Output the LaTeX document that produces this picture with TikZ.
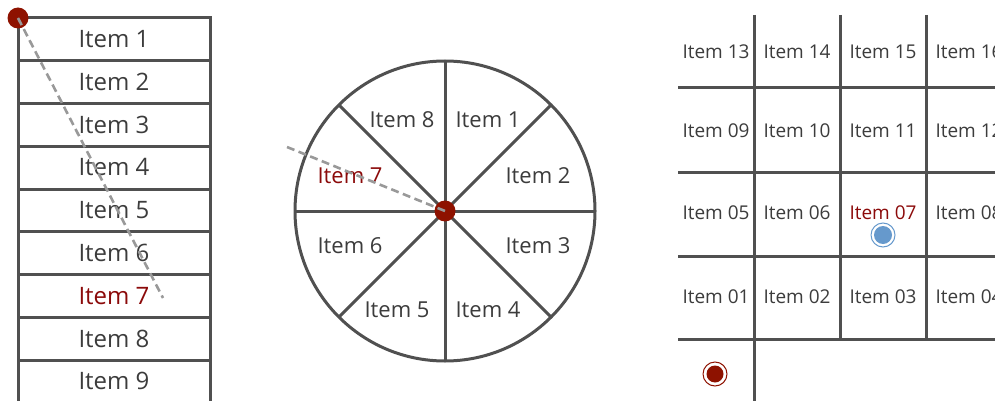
\documentclass[tikz,border=0pt]{standalone}
\usepackage{fontspec}
\setmainfont{Open Sans}
\definecolor{linec}{HTML}{505050}
\definecolor{txtc}{HTML}{3C3C3C}
\definecolor{redc}{HTML}{8E1200}
\definecolor{redt}{HTML}{8B0A0A}
\definecolor{dashc}{HTML}{999999}
\definecolor{bluec}{HTML}{6699CC}
\tikzset{
  frame/.style={draw=linec, line width=3pt},
  listtxt/.style={text=txtc, font=\fontsize{24}{28}\selectfont, inner sep=0pt},
  wheeltxt/.style={text=txtc, font=\fontsize{22}{26}\selectfont, inner sep=0pt},
  gridtxt/.style={text=txtc, font=\fontsize{19}{22}\selectfont, inner sep=0pt},
  hot/.style={text=redt},
  guide/.style={draw=dashc, line width=2.6pt, dash pattern=on 8pt off 4.5pt},
  reddot/.style={circle, fill=redc, minimum size=21pt, inner sep=0pt},
}
\begin{document}
\begin{tikzpicture}[x=1pt, y=-1pt]
\useasboundingbox (0,0) rectangle (995,401);
% ---------- list ----------
\draw[frame] (18,401) -- (18,18) -- (210,18) -- (210,401);
\foreach \y in {60.7,103.3,146,189,231.7,274.3,317,360}
  \draw[frame] (18,\y) -- (210,\y);
\foreach \i/\y in {1/39.5,2/82,3/124.7,4/167.5,5/210.3,6/253,8/338.5,9/380.5}
  \node[listtxt] (l\i) at (114,\y) {Item \i};
\node[listtxt, hot] (l7) at (114,295.7) {Item 7};
\coordinate (lend) at (163,298);
\node[reddot] (ldot) at (18,18) {};
\draw[guide] (ldot.center) -- (lend);
% ---------- wheel ----------
\coordinate (wc) at (445,211);
\draw[frame] (wc) circle (150);
\foreach \a in {0,45,...,315}
  \draw[frame] (wc) -- ++(\a:150);
\node[wheeltxt] (w1) at (488,120) {Item 1};
\node[wheeltxt] (w2) at (538,176) {Item 2};
\node[wheeltxt] (w3) at (538,246) {Item 3};
\node[wheeltxt] (w4) at (488,310) {Item 4};
\node[wheeltxt] (w5) at (397,310) {Item 5};
\node[wheeltxt] (w6) at (350,246) {Item 6};
\node[wheeltxt, hot] (w7) at (350,176) {Item 7};
\node[wheeltxt] (w8) at (402,120) {Item 8};
\coordinate (wend) at (287,147);
\node[reddot] (wdot) at (wc) {};
\draw[guide] (wdot.center) -- (wend);
% ---------- grid ----------
\foreach \y in {88,172,256,339}
  \draw[frame] (678,\y) -- (995,\y);
\draw[frame] (754,15) -- (754,401);
\draw[frame] (840,15) -- (840,339);
\draw[frame] (926,15) -- (926,339);
\foreach \lab/\x/\y in {13/716/52,14/797/52,15/883/52,16/969/52,
                        09/716/131,10/797/131,11/883/131,12/969/131,
                        05/716/213,06/797/213,08/969/213,
                        01/716/297,02/797/297,03/883/297,04/969/297}
  \node[gridtxt] (g\lab) at (\x,\y) {Item \lab};
\node[gridtxt, hot] (g07) at (883,213) {Item 07};
\node[circle, draw=bluec, line width=1pt, fill=white, minimum size=24pt, inner sep=0pt] (bluering) at (883,235) {};
\node[circle, fill=bluec, minimum size=18pt, inner sep=0pt] (bluedot) at (bluering) {};
\node[circle, draw=redc, line width=1pt, fill=white, minimum size=24pt, inner sep=0pt] (redring) at (715,374) {};
\node[circle, fill=redc, minimum size=17pt, inner sep=0pt] (reddot2) at (redring) {};
\end{tikzpicture}
\end{document}
